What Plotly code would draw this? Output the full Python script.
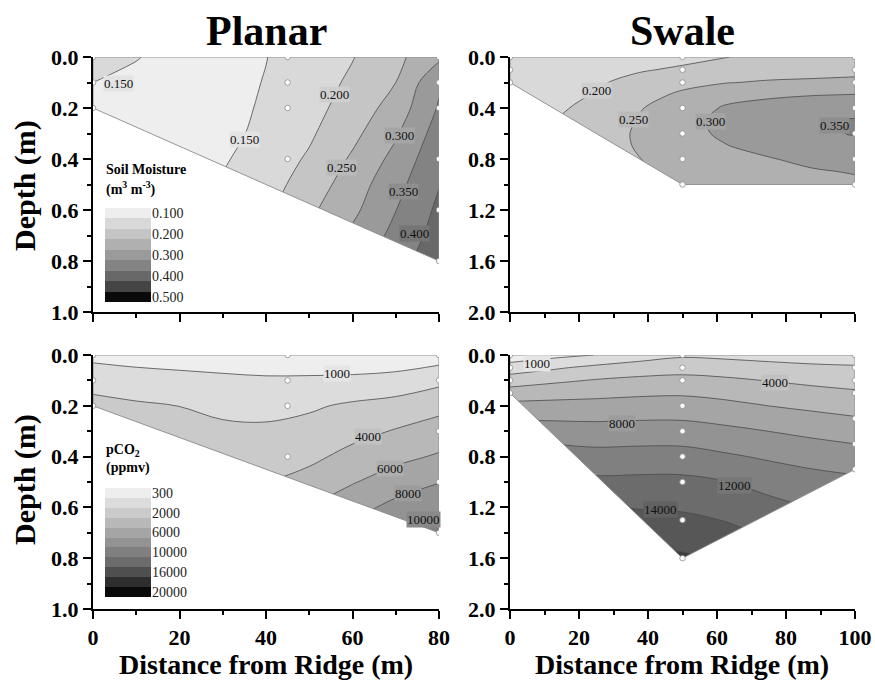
import numpy as np
import plotly.graph_objects as go

FONT = "Liberation Serif"

# ---------------- contour levels and grey shades ----------------
sm_levels = [0.10, 0.15, 0.20, 0.25, 0.30, 0.35, 0.40, 0.45, 0.50]
sm_band_colors = ["#f7f7f7", "#eeeeee", "#d9d9d9", "#c5c5c5", "#b0b0b0", "#9a9a9a",
                  "#838383", "#686868", "#454545", "#0a0a0a"]
co2_levels = [300, 1000, 2000, 4000, 6000, 8000, 10000, 12000, 14000, 16000, 18000, 20000]
co2_band_colors = ["#f8f8f8", "#eeeeee", "#dcdcdc", "#cacaca", "#b8b8b8", "#a5a5a5",
                   "#939393", "#808080", "#6c6c6c", "#575757", "#3c3c3c", "#262626", "#0a0a0a"]

sm_legend_labels = ["0.100", "0.200", "0.300", "0.400", "0.500"]
sm_legend_label_rows = [0, 2, 4, 6, 8]
sm_legend_colors = ["#eeeeee", "#d9d9d9", "#c5c5c5", "#b0b0b0", "#9a9a9a",
                    "#838383", "#686868", "#454545", "#0a0a0a"]
co2_legend_labels = ["300", "2000", "6000", "10000", "16000", "20000"]
co2_legend_label_rows = [0, 2, 4, 6, 8, 10]
co2_legend_colors = ["#eeeeee", "#dcdcdc", "#cacaca", "#b8b8b8", "#a5a5a5", "#939393",
                     "#808080", "#6c6c6c", "#4f4f4f", "#2e2e2e", "#0a0a0a"]

# ---------------- Planar, soil moisture ----------------
planar_sm_x = [0, 10, 20, 30, 40, 50, 60, 70, 80]
planar_sm_depth = [0.0, 0.1, 0.2, 0.3, 0.4, 0.5, 0.6, 0.7, 0.8]
planar_sm_values = [
    [0.160, 0.152, 0.135, 0.135, 0.149, 0.173, 0.198, 0.237, 0.290],
    [0.150, 0.140, 0.132, 0.135, 0.152, 0.178, 0.208, 0.250, 0.343],
    [0.140, 0.132, 0.128, 0.135, 0.156, 0.184, 0.220, 0.271, 0.355],
    [0.130, 0.128, 0.130, 0.138, 0.161, 0.193, 0.237, 0.294, 0.372],
    [0.120, 0.125, 0.130, 0.145, 0.173, 0.206, 0.257, 0.315, 0.387],
    [0.120, 0.125, 0.135, 0.155, 0.180, 0.222, 0.275, 0.334, 0.398],
    [0.120, 0.130, 0.140, 0.160, 0.190, 0.240, 0.289, 0.349, 0.410],
    [0.120, 0.130, 0.150, 0.170, 0.200, 0.252, 0.310, 0.364, 0.420],
    [0.120, 0.130, 0.150, 0.180, 0.210, 0.270, 0.330, 0.380, 0.435],
]
planar_sm_floor_x = [0, 80]
planar_sm_floor_depth = [0.2, 0.8]
planar_sm_sample_x = [0, 0, 0, 45, 45, 45, 45, 80, 80, 80, 80, 80, 80]
planar_sm_sample_depth = [0, 0.1, 0.2, 0, 0.1, 0.2, 0.4, 0, 0.1, 0.2, 0.4, 0.6, 0.8]
planar_sm_label_x = [5.9, 35.1, 55.9, 57.5, 70.9, 71.7, 74.4]
planar_sm_label_depth = [0.103, 0.325, 0.149, 0.433, 0.306, 0.528, 0.691]
planar_sm_label_value = [0.15, 0.15, 0.20, 0.25, 0.30, 0.35, 0.40]

# ---------------- Swale, soil moisture ----------------
swale_sm_x = [0, 12.5, 25, 37.5, 50, 62.5, 75, 87.5, 100]
swale_sm_depth = [0.0, 0.1, 0.2, 0.3, 0.4, 0.5, 0.6, 0.7, 0.8, 0.9, 1.0]
swale_sm_values = [
    [0.155, 0.160, 0.165, 0.175, 0.185, 0.199, 0.210, 0.212, 0.215],
    [0.162, 0.170, 0.180, 0.195, 0.208, 0.222, 0.228, 0.232, 0.235],
    [0.168, 0.178, 0.193, 0.218, 0.238, 0.248, 0.255, 0.258, 0.262],
    [0.172, 0.185, 0.203, 0.235, 0.258, 0.285, 0.293, 0.299, 0.303],
    [0.176, 0.192, 0.213, 0.247, 0.275, 0.305, 0.318, 0.328, 0.335],
    [0.180, 0.198, 0.220, 0.253, 0.285, 0.312, 0.330, 0.343, 0.353],
    [0.180, 0.199, 0.225, 0.257, 0.285, 0.308, 0.328, 0.343, 0.352],
    [0.180, 0.199, 0.225, 0.255, 0.278, 0.298, 0.315, 0.330, 0.337],
    [0.180, 0.199, 0.225, 0.249, 0.270, 0.280, 0.297, 0.312, 0.320],
    [0.180, 0.199, 0.225, 0.245, 0.262, 0.265, 0.280, 0.295, 0.303],
    [0.180, 0.199, 0.225, 0.240, 0.255, 0.255, 0.270, 0.285, 0.290],
]
swale_sm_floor_x = [0, 50, 100]
swale_sm_floor_depth = [0.2, 1.0, 1.0]
swale_sm_sample_x = [0, 0, 0] + [50] * 7 + [100] * 7
swale_sm_sample_depth = [0, 0.1, 0.2] + [0, 0.1, 0.2, 0.4, 0.6, 0.8, 1.0] * 2
swale_sm_label_x = [25.2, 35.8, 58.0, 94.1]
swale_sm_label_depth = [0.264, 0.494, 0.507, 0.541]
swale_sm_label_value = [0.20, 0.25, 0.30, 0.35]

# ---------------- Planar, pCO2 ----------------
planar_co2_x = [0, 10, 20, 30, 40, 50, 60, 70, 80]
planar_co2_depth = [0.0, 0.1, 0.2, 0.3, 0.4, 0.5, 0.6, 0.7]
planar_co2_values = [
    [800, 700, 650, 600, 550, 550, 600, 600, 650],
    [1640, 1460, 1330, 1220, 1140, 1150, 1170, 1300, 1750],
    [2590, 2250, 1990, 1700, 1650, 1860, 2320, 2800, 3420],
    [3500, 3000, 2700, 2500, 2400, 2700, 3400, 4130, 4850],
    [4300, 3800, 3400, 3200, 3200, 3560, 4580, 5470, 6220],
    [5000, 4500, 4200, 3990, 4020, 4700, 5870, 6960, 7920],
    [5500, 5200, 5000, 4800, 4800, 5980, 7250, 8600, 9580],
    [6000, 5900, 5800, 5600, 5600, 7200, 8700, 10300, 11200],
]
planar_co2_floor_x = [0, 80]
planar_co2_floor_depth = [0.2, 0.7]
planar_co2_sample_x = [0, 0, 0, 45, 45, 45, 45, 80, 80, 80, 80, 80]
planar_co2_sample_depth = [0, 0.1, 0.2, 0, 0.1, 0.2, 0.4, 0, 0.1, 0.3, 0.5, 0.7]
planar_co2_label_x = [56.3, 63.6, 68.6, 72.8, 76.3]
planar_co2_label_depth = [0.072, 0.320, 0.446, 0.545, 0.646]
planar_co2_label_value = [1000, 4000, 6000, 8000, 10000]

# ---------------- Swale, pCO2 ----------------
swale_co2_x = [0, 12.5, 25, 37.5, 50, 62.5, 75, 87.5, 100]
swale_co2_depth = [0.0, 0.1, 0.2, 0.3, 0.4, 0.6, 0.8, 1.0, 1.2, 1.4, 1.6]
swale_co2_values = [
    [550, 800, 1020, 1500, 1850, 1750, 1600, 1400, 1250],
    [1450, 1860, 2500, 3000, 3260, 3030, 2730, 2510, 2350],
    [3000, 3640, 4130, 4440, 4590, 4330, 3940, 3570, 3300],
    [4910, 5230, 5470, 5690, 5770, 5440, 4970, 4600, 4260],
    [6570, 6630, 6670, 6810, 6840, 6500, 5990, 5600, 5210],
    [9110, 8950, 8800, 8880, 8860, 8450, 7990, 7520, 7110],
    [11200, 11000, 10700, 10790, 10780, 10270, 9740, 9300, 8900],
    [13090, 12870, 12440, 12490, 12480, 12060, 11310, 10750, 10440],
    [14800, 14520, 14150, 13900, 13770, 13310, 12610, 11990, 11690],
    [16300, 15990, 15630, 15300, 15050, 14530, 13720, 13140, 12860],
    [17000, 16800, 16600, 16500, 16300, 15700, 14800, 14300, 13950],
]
swale_co2_floor_x = [0, 50, 100]
swale_co2_floor_depth = [0.3, 1.6, 0.9]
swale_co2_sample_x = [0] * 4 + [50] * 9 + [100] * 7
swale_co2_sample_depth = ([0, 0.1, 0.2, 0.3] + [0, 0.1, 0.2, 0.4, 0.6, 0.8, 1.0, 1.3, 1.6]
                          + [0, 0.1, 0.2, 0.3, 0.5, 0.7, 0.9])
swale_co2_label_x = [7.9, 76.8, 32.4, 65.2, 43.5]
swale_co2_label_depth = [0.066, 0.215, 0.538, 1.024, 1.213]
swale_co2_label_value = [1000, 4000, 8000, 12000, 14000]

# ---------------- helpers ----------------
FIG_W, FIG_H = 875, 681


def PX(px):
    return px / FIG_W


def PY(py):
    return 1 - py / FIG_H


def level_index(values, levels):
    lv = np.asarray(levels, dtype=float)
    ext = np.concatenate([[lv[0] - (lv[1] - lv[0])], lv, [lv[-1] + (lv[-1] - lv[-2])]])
    idx = np.arange(len(ext), dtype=float)
    return np.interp(np.asarray(values, dtype=float), ext, idx)


def blend(c1, c2):
    a = [int(c1[i:i + 2], 16) for i in (1, 3, 5)]
    b = [int(c2[i:i + 2], 16) for i in (1, 3, 5)]
    return "#" + "".join("%02x" % ((u + v) // 2) for u, v in zip(a, b))


def fmt_sm(v):
    return "%.3f" % v


def fmt_co2(v):
    return "%d" % v


X_LEFT = [PX(93), PX(439)]
X_RIGHT = [PX(510), PX(855)]
Y_TOP = [PY(312), PY(57)]
Y_BOT = [PY(609), PY(355)]

panels = [
    dict(ax="", x=planar_sm_x, d=planar_sm_depth, z=planar_sm_values, levels=sm_levels,
         colors=sm_band_colors, fx=planar_sm_floor_x, fd=planar_sm_floor_depth,
         sx=planar_sm_sample_x, sd=planar_sm_sample_depth, lx=planar_sm_label_x,
         ld=planar_sm_label_depth, lv=planar_sm_label_value, fmt=fmt_sm,
         xmax=80, ymax=1.0, xdom=X_LEFT, ydom=Y_TOP, ydt=0.2, bottom=False),
    dict(ax="2", x=swale_sm_x, d=swale_sm_depth, z=swale_sm_values, levels=sm_levels,
         colors=sm_band_colors, fx=swale_sm_floor_x, fd=swale_sm_floor_depth,
         sx=swale_sm_sample_x, sd=swale_sm_sample_depth, lx=swale_sm_label_x,
         ld=swale_sm_label_depth, lv=swale_sm_label_value, fmt=fmt_sm,
         xmax=100, ymax=2.0, xdom=X_RIGHT, ydom=Y_TOP, ydt=0.4, bottom=False),
    dict(ax="3", x=planar_co2_x, d=planar_co2_depth, z=planar_co2_values, levels=co2_levels,
         colors=co2_band_colors, fx=planar_co2_floor_x, fd=planar_co2_floor_depth,
         sx=planar_co2_sample_x, sd=planar_co2_sample_depth, lx=planar_co2_label_x,
         ld=planar_co2_label_depth, lv=planar_co2_label_value, fmt=fmt_co2,
         xmax=80, ymax=1.0, xdom=X_LEFT, ydom=Y_BOT, ydt=0.2, bottom=True),
    dict(ax="4", x=swale_co2_x, d=swale_co2_depth, z=swale_co2_values, levels=co2_levels,
         colors=co2_band_colors, fx=swale_co2_floor_x, fd=swale_co2_floor_depth,
         sx=swale_co2_sample_x, sd=swale_co2_sample_depth, lx=swale_co2_label_x,
         ld=swale_co2_label_depth, lv=swale_co2_label_value, fmt=fmt_co2,
         xmax=100, ymax=2.0, xdom=X_RIGHT, ydom=Y_BOT, ydt=0.4, bottom=True),
]

fig = go.Figure()
annotations = []
layout_axes = {}

for p in panels:
    xa, ya = "x" + p["ax"], "y" + p["ax"]
    n = len(p["levels"])
    cscale = [[k / n, c] for k, c in enumerate(p["colors"])]
    fig.add_trace(go.Contour(
        x=p["x"], y=p["d"], z=level_index(p["z"], p["levels"]),
        xaxis=xa, yaxis=ya, autocontour=False,
        contours=dict(start=1, end=n, size=1, coloring="fill", showlines=True,
                      showlabels=False),
        line=dict(color="#4a4a4a", width=0.8, smoothing=1.0),
        colorscale=cscale, showscale=False, hoverinfo="skip"))
    # white mask below the sampled domain
    pad = 0.1 * p["xmax"]
    mx = list(p["fx"]) + [p["fx"][-1] + pad, p["fx"][-1] + pad, p["fx"][0] - pad, p["fx"][0] - pad]
    my = list(p["fd"]) + [p["fd"][-1], p["ymax"] * 1.2, p["ymax"] * 1.2, p["fd"][0]]
    fig.add_trace(go.Scatter(x=mx, y=my, xaxis=xa, yaxis=ya, mode="lines", fill="toself",
                             fillcolor="white", line=dict(width=0, color="white"),
                             hoverinfo="skip"))
    # domain outline
    ox = [p["fx"][0], p["xmax"], p["xmax"]] + list(p["fx"])[::-1][1:] + [p["fx"][0]]
    oy = [0, 0, p["fd"][-1]] + list(p["fd"])[::-1][1:] + [0]
    fig.add_trace(go.Scatter(x=ox, y=oy, xaxis=xa, yaxis=ya, mode="lines",
                             line=dict(width=0.9, color="#8a8a8a"), hoverinfo="skip"))
    # sample points
    fig.add_trace(go.Scatter(x=p["sx"], y=p["sd"], xaxis=xa, yaxis=ya, mode="markers",
                             marker=dict(size=5.5, color="white",
                                         line=dict(color="#8c8c8c", width=0.8)),
                             hoverinfo="skip"))
    # contour labels
    for lx, ld, lv in zip(p["lx"], p["ld"], p["lv"]):
        k = p["levels"].index(lv)
        annotations.append(dict(
            x=lx, y=ld, xref=xa, yref=ya, text=p["fmt"](lv), showarrow=False,
            font=dict(family=FONT, size=13, color="#111111"),
            bgcolor=blend(p["colors"][k], p["colors"][k + 1]), borderpad=0))

    axis_common = dict(showline=True, linecolor="black", linewidth=2, mirror=False,
                       ticks="outside", ticklen=8, tickwidth=2, tickcolor="black",
                       showgrid=False, zeroline=False, automargin=False,
                       ticklabeloverflow="allow",
                       tickfont=dict(family=FONT, size=22, color="black", weight="bold"))
    layout_axes["xaxis" + p["ax"]] = dict(
        axis_common, domain=p["xdom"], anchor=ya, range=[0, p["xmax"]],
        tick0=0, dtick=20, showticklabels=p["bottom"],
        minor=dict(ticks="outside", ticklen=4, tickwidth=2, tickcolor="black", dtick=10))
    layout_axes["yaxis" + p["ax"]] = dict(
        axis_common, domain=p["ydom"], anchor=xa, range=[p["ymax"], 0],
        tick0=0, dtick=p["ydt"], tickformat=".1f",
        minor=dict(ticks="outside", ticklen=4, tickwidth=2, tickcolor="black",
                   dtick=p["ydt"] / 2))

# ---------------- in-panel legends (grey scale keys) ----------------
def legend_scale(colors):
    k = len(colors)
    cs = []
    for i, c in enumerate(colors):
        cs.append([i / k, c])
        cs.append([(i + 1) / k, c])
    return cs


for ax, colors, labels, rows, ydom in [
    ("5", sm_legend_colors, sm_legend_labels, sm_legend_label_rows, [PY(302), PY(208)]),
    ("6", co2_legend_colors, co2_legend_labels, co2_legend_label_rows, [PY(597), PY(488)]),
]:
    k = len(colors)
    fig.add_trace(go.Heatmap(z=[[i] for i in range(k)], x=[0], y=list(range(k)),
                             xaxis="x" + ax, yaxis="y" + ax, colorscale=legend_scale(colors),
                             zmin=-0.5, zmax=k - 0.5, showscale=False, hoverinfo="skip"))
    layout_axes["xaxis" + ax] = dict(domain=[PX(105), PX(151)], anchor="y" + ax,
                                     showticklabels=False, showgrid=False, zeroline=False,
                                     showline=False, ticks="", range=[-0.5, 0.5],
                                     automargin=False)
    layout_axes["yaxis" + ax] = dict(domain=ydom, anchor="x" + ax, side="right",
                                     range=[k - 0.5, -0.5], tickvals=rows,
                                     ticktext=labels, ticks="", showgrid=False,
                                     zeroline=False, showline=False, automargin=False,
                                     tickfont=dict(family=FONT, size=14, color="#222222"))

# ---------------- text ----------------
def ann(text, x, y, size, angle=0, xanchor="center"):
    return dict(text=text, x=PX(x), y=PY(y), xref="paper", yref="paper", showarrow=False,
                textangle=angle, xanchor=xanchor, yanchor="middle",
                font=dict(family=FONT, size=size, color="black"))


annotations += [
    ann("<b>Planar</b>", 266, 31, 42),
    ann("<b>Swale</b>", 682, 31, 42),
    ann("<b>Depth (m)</b>", 25, 186, 30, angle=-90),
    ann("<b>Depth (m)</b>", 25, 480, 30, angle=-90),
    ann("<b>Distance from Ridge (m)</b>", 266, 664, 28),
    ann("<b>Distance from Ridge (m)</b>", 682, 664, 28),
    ann("<b>Soil Moisture</b>", 104, 170, 14, xanchor="left"),
    ann("<b>(m<sup>3</sup> m<sup>-3</sup>)</b>", 104, 189, 14, xanchor="left"),
    ann("<b>pCO<sub>2</sub></b>", 104, 450, 14, xanchor="left"),
    ann("<b>(ppmv)</b>", 104, 468, 14, xanchor="left"),
]

fig.update_layout(
    width=FIG_W, height=FIG_H, margin=dict(l=0, r=0, t=0, b=0, autoexpand=False),
    paper_bgcolor="white", plot_bgcolor="white", showlegend=False,
    font=dict(family=FONT, color="black"), hovermode=False,
    annotations=annotations, **layout_axes)

# remove the browser's default 8 px page margin so the 875x681 figure fills the window
fig.write_html("out.html",
               config={"displayModeBar": False, "staticPlot": True},
               post_script="document.body.style.margin='0px';"
                           "document.body.style.overflow='hidden';")
